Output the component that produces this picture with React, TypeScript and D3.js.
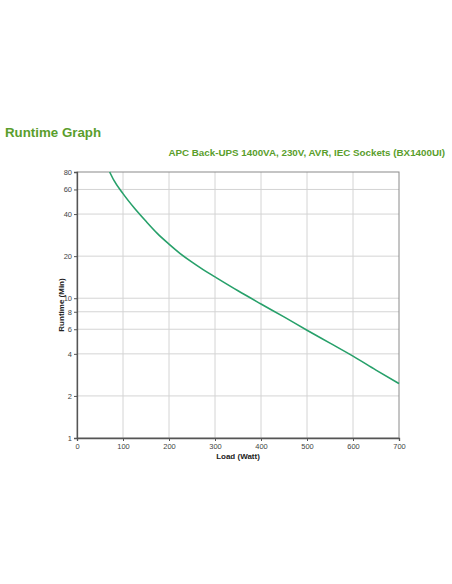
import React, { useEffect, useRef } from "react";
import * as d3 from "d3";

// runtime (min), per load (W)
const loads = [71, 80, 100, 125, 150, 175, 200, 225, 250, 275, 300, 350, 400, 450, 500, 550, 600, 650, 700];
const runtimes = [80, 70, 56, 44, 35.5, 29, 24.4, 20.8, 18.1, 15.95, 14.2, 11.3, 9.1, 7.35, 5.9, 4.77, 3.85, 3.06, 2.45];

const xTicks = [0, 100, 200, 300, 400, 500, 600, 700];
const yTicks = [1, 2, 4, 6, 8, 10, 20, 40, 60, 80];

const W = 452;
const H = 584;
const plot = { left: 77, right: 399, top: 172, bottom: 438 };

export default function App() {
  const ref = useRef<SVGSVGElement>(null);

  useEffect(() => {
    const svg = d3.select(ref.current);
    svg.selectAll("*").remove();

    const x = d3.scaleLinear().domain([0, 700]).range([plot.left, plot.right]);
    const y = d3.scaleLog().domain([1, 80]).range([plot.bottom, plot.top]);

    const font = "'Liberation Sans', Arial, sans-serif";
    const green = "#5a9e2c";

    svg
      .append("text")
      .attr("x", 5)
      .attr("y", 137)
      .attr("font-family", font)
      .attr("font-weight", "bold")
      .attr("font-size", 13.3)
      .attr("fill", green)
      .text("Runtime Graph");

    svg
      .append("text")
      .attr("x", 445)
      .attr("y", 156)
      .attr("text-anchor", "end")
      .attr("font-family", font)
      .attr("font-weight", "bold")
      .attr("font-size", 9.8)
      .attr("fill", green)
      .text("APC Back-UPS 1400VA, 230V, AVR, IEC Sockets (BX1400UI)");

    const g = svg.append("g");

    // grid
    g.selectAll(".vg")
      .data(xTicks.slice(1, -1))
      .enter()
      .append("line")
      .attr("x1", (d) => x(d))
      .attr("x2", (d) => x(d))
      .attr("y1", plot.top)
      .attr("y2", plot.bottom)
      .attr("stroke", "#d4d4d4")
      .attr("stroke-width", 1);

    g.selectAll(".hg")
      .data(yTicks.slice(1, -1))
      .enter()
      .append("line")
      .attr("x1", plot.left)
      .attr("x2", plot.right)
      .attr("y1", (d) => y(d))
      .attr("y2", (d) => y(d))
      .attr("stroke", "#d4d4d4")
      .attr("stroke-width", 1);

    // frame
    g.append("rect")
      .attr("x", plot.left)
      .attr("y", plot.top)
      .attr("width", plot.right - plot.left)
      .attr("height", plot.bottom - plot.top)
      .attr("fill", "none")
      .attr("stroke", "#8a8a8a")
      .attr("stroke-width", 1);

    const xAxis = g
      .append("g")
      .attr("transform", `translate(0,${plot.bottom})`)
      .call(d3.axisBottom(x).tickValues(xTicks).tickSize(3).tickPadding(3));
    const yAxis = g
      .append("g")
      .attr("transform", `translate(${plot.left},0)`)
      .call(
        d3
          .axisLeft(y)
          .tickValues(yTicks)
          .tickFormat(d3.format("d"))
          .tickSize(3)
          .tickPadding(2)
      );

    [xAxis, yAxis].forEach((a) => {
      a.select(".domain").attr("stroke", "#555").attr("stroke-width", 1.3);
      a.selectAll(".tick line").attr("stroke", "#555");
      a.selectAll(".tick text")
        .attr("fill", "#444")
        .attr("font-size", 7.5)
        .attr("font-family", font);
    });

    g.append("text")
      .attr("x", (plot.left + plot.right) / 2)
      .attr("y", 459)
      .attr("text-anchor", "middle")
      .attr("font-family", font)
      .attr("font-weight", "bold")
      .attr("font-size", 8)
      .attr("fill", "#222")
      .text("Load (Watt)");

    g.append("text")
      .attr("transform", `translate(64,${(plot.top + plot.bottom) / 2}) rotate(-90)`)
      .attr("text-anchor", "middle")
      .attr("font-family", font)
      .attr("font-weight", "bold")
      .attr("font-size", 8)
      .attr("fill", "#222")
      .text("Runtime (Min)");

    const line = d3
      .line<number>()
      .x((_, i) => x(loads[i]))
      .y((d) => y(d))
      .curve(d3.curveMonotoneX);

    g.append("path")
      .datum(runtimes)
      .attr("d", line)
      .attr("fill", "none")
      .attr("stroke", "#27a06a")
      .attr("stroke-width", 1.6);
  }, []);

  return (
    <svg
      ref={ref}
      width={W}
      height={H}
      style={{ position: "absolute", left: 0, top: 0, background: "#fff" }}
    />
  );
}
